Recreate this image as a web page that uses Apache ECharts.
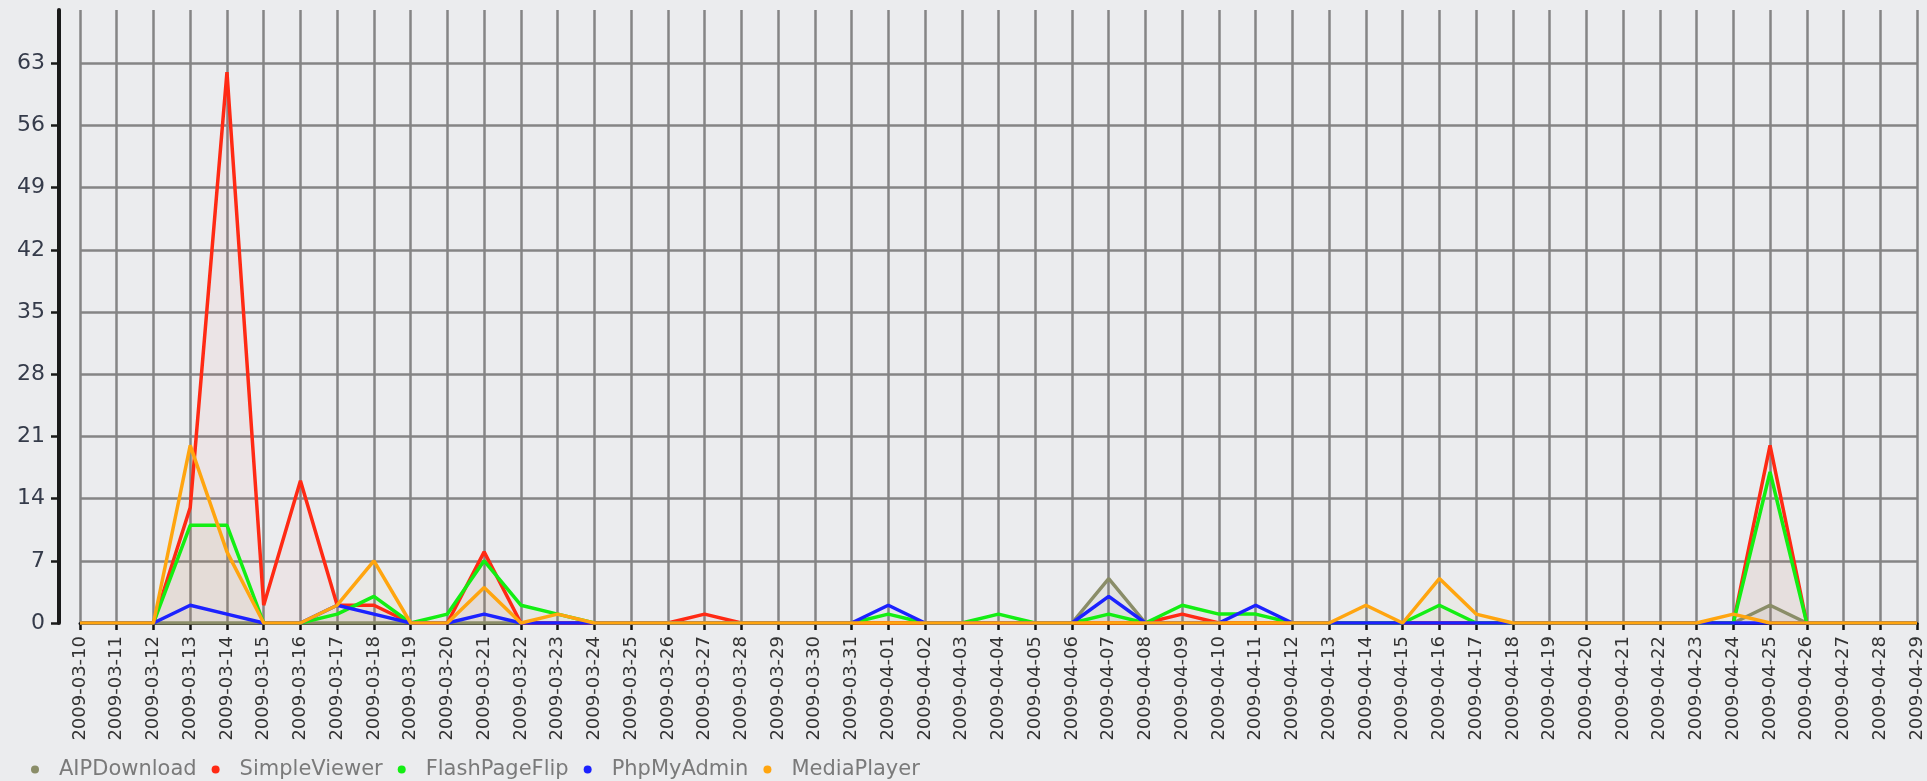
<!DOCTYPE html>
<html>
<head>
<meta charset="utf-8">
<script src="https://cdn.jsdelivr.net/npm/echarts@6/dist/echarts.min.js"></script>
<style>
html,body{margin:0;padding:0;background:#ebecee;}
#c{width:1927px;height:781px;}
</style>
</head>
<body>
<div id="c"></div>
<script>
var dates = ['2009-03-10','2009-03-11','2009-03-12','2009-03-13','2009-03-14','2009-03-15','2009-03-16','2009-03-17','2009-03-18','2009-03-19','2009-03-20','2009-03-21','2009-03-22','2009-03-23','2009-03-24','2009-03-25','2009-03-26','2009-03-27','2009-03-28','2009-03-29','2009-03-30','2009-03-31','2009-04-01','2009-04-02','2009-04-03','2009-04-04','2009-04-05','2009-04-06','2009-04-07','2009-04-08','2009-04-09','2009-04-10','2009-04-11','2009-04-12','2009-04-13','2009-04-14','2009-04-15','2009-04-16','2009-04-17','2009-04-18','2009-04-19','2009-04-20','2009-04-21','2009-04-22','2009-04-23','2009-04-24','2009-04-25','2009-04-26','2009-04-27','2009-04-28','2009-04-29'];
var aipDownload   = [0,0,0,0,0,0,0,0,0,0, 0,0,0,0,0,0,0,0,0,0, 0,0,0,0,0,0,0,0,5,0, 0,0,0,0,0,0,0,0,0,0, 0,0,0,0,0,0,2,0,0,0, 0];
var simpleViewer  = [0,0,0,13,62,2,16,2,2,0, 0,8,0,0,0,0,0,1,0,0, 0,0,0,0,0,0,0,0,0,0, 1,0,0,0,0,0,0,0,0,0, 0,0,0,0,0,0,20,0,0,0, 0];
var flashPageFlip = [0,0,0,11,11,0,0,1,3,0, 1,7,2,1,0,0,0,0,0,0, 0,0,1,0,0,1,0,0,1,0, 2,1,1,0,0,0,0,2,0,0, 0,0,0,0,0,0,17,0,0,0, 0];
var phpMyAdmin    = [0,0,0,2,1,0,0,2,1,0, 0,1,0,0,0,0,0,0,0,0, 0,0,2,0,0,0,0,0,3,0, 0,0,2,0,0,0,0,0,0,0, 0,0,0,0,0,0,0,0,0,0, 0];
var mediaPlayer   = [0,0,0,20,8,0,0,2,7,0, 0,4,0,1,0,0,0,0,0,0, 0,0,0,0,0,0,0,0,0,0, 0,0,0,0,0,2,0,5,1,0, 0,0,0,0,0,1,0,0,0,0, 0];
var yTicks = [0,7,14,21,28,35,42,49,56,63];

var font = 'DejaVu Sans';
function mk(name, data, color, fill) {
  return {
    name: name, type: 'line', data: data, symbol: 'none',
    itemStyle: {color: color},
    lineStyle: {color: color, width: 3.5},
    areaStyle: {color: fill, origin: 'start'},
    emphasis: {disabled: true}
  };
}
var chart = echarts.init(document.getElementById('c'), null, {renderer: 'canvas'});
chart.setOption({
  backgroundColor: '#ebecee',
  animation: false,
  grid: {left: 80, right: 10, top: 10, bottom: 158, containLabel: false},
  legend: {
    left: 26, top: 754, icon: 'circle', itemWidth: 8, itemHeight: 8, itemGap: 15,
    textStyle: {fontFamily: font, fontSize: 21, color: '#7a7a7a', padding: [0,0,0,15]},
    data: ['AIPDownload','SimpleViewer','FlashPageFlip','PhpMyAdmin','MediaPlayer']
  },
  xAxis: {
    type: 'category', data: dates, boundaryGap: false,
    axisLine: {lineStyle: {color: '#222', width: 3}},
    axisTick: {show: true, interval: 0, length: 7, lineStyle: {color: '#111', width: 2.5}},
    axisLabel: {interval: 0, rotate: 90, fontFamily: font, fontSize: 18, color: '#333', margin: 13},
    splitLine: {show: true, interval: 0, lineStyle: {color: '#858585', width: 2.5}}
  },
  yAxis: {
    type: 'value', min: 0, max: 69, interval: 7, offset: 21,
    axisLine: {show: true, lineStyle: {color: '#1a1a1a', width: 4}},
    axisTick: {show: true, length: 8, customValues: yTicks, lineStyle: {color: '#1a1a1a', width: 2.5}},
    axisLabel: {fontFamily: font, fontSize: 22, color: '#353b4a', margin: 14, customValues: yTicks},
    splitLine: {show: true, lineStyle: {color: '#858585', width: 2.5}}
  },
  series: [
    mk('AIPDownload', aipDownload, '#8a8d68', 'rgba(138,141,104,0.12)'),
    mk('SimpleViewer', simpleViewer, '#ff2a14', 'rgba(255,60,60,0.06)'),
    mk('FlashPageFlip', flashPageFlip, '#13ee13', 'rgba(150,140,90,0.08)'),
    mk('PhpMyAdmin', phpMyAdmin, '#1c22ff', 'rgba(120,120,160,0.04)'),
    mk('MediaPlayer', mediaPlayer, '#ffa50f', 'rgba(200,170,90,0.07)')
  ]
});
</script>
</body>
</html>
